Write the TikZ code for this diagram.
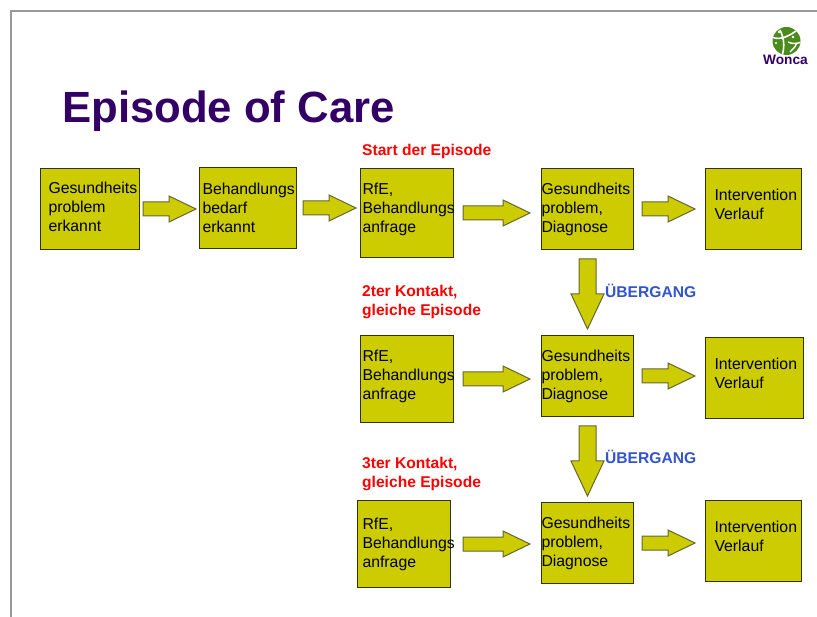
\documentclass[tikz,border=0pt]{standalone}
\usepackage{fontspec}
\setmainfont{Liberation Sans}
\usetikzlibrary{calc}
\definecolor{boxyellow}{HTML}{CCCC00}
\definecolor{titlepurple}{HTML}{330066}
\definecolor{hintblue}{HTML}{3355CC}
\definecolor{framegray}{HTML}{999999}
\definecolor{arrowline}{HTML}{666633}
\definecolor{globegreen}{HTML}{4B8B1D}
\newcommand{\lifttext}[1]{\rule[-#1pt]{0pt}{1pt}}
\tikzset{
  stepbox/.style n args={3}{draw=black!75!boxyellow, fill=boxyellow, line width=1pt, anchor=north west,
    minimum height=#2pt, text width=#1pt, inner xsep=#3pt, inner ysep=0pt, align=left,
    font=\fontsize{15.8}{19}\selectfont, execute at begin node={\hyphenpenalty=10000\relax}},
  blockright/.style 2 args={draw=arrowline, fill=boxyellow, line width=1pt, line join=miter,
    to path={
      ($(\tikztostart.east)+(#1pt,7pt)$) -- ($(\tikztotarget.west |- \tikztostart.east)+(-#2pt-27pt,7pt)$)
      -- ($(\tikztotarget.west |- \tikztostart.east)+(-#2pt-27pt,13pt)$)
      -- ($(\tikztotarget.west |- \tikztostart.east)+(-#2pt,0pt)$)
      -- ($(\tikztotarget.west |- \tikztostart.east)+(-#2pt-27pt,-13pt)$)
      -- ($(\tikztotarget.west |- \tikztostart.east)+(-#2pt-27pt,-7pt)$)
      -- ($(\tikztostart.east)+(#1pt,-7pt)$) -- cycle}},
  blockdown/.style={draw=arrowline, fill=boxyellow, line width=1pt, line join=miter,
    to path={
      ($(\tikztostart.south)+(-8.5pt,-9pt)$) -- ($(\tikztostart.south)+(8.5pt,-9pt)$)
      -- ($(\tikztotarget.north)+(8.5pt,41pt)$) -- ($(\tikztotarget.north)+(16.5pt,41pt)$)
      -- ($(\tikztotarget.north)+(0pt,6pt)$)
      -- ($(\tikztotarget.north)+(-16.5pt,41pt)$) -- ($(\tikztotarget.north)+(-8.5pt,41pt)$) -- cycle}},
  redlabel/.style={text=red, anchor=west, align=left, inner sep=0pt,
    font=\fontsize{15.6}{19}\selectfont\bfseries},
  hintlabel/.style={text=hintblue, anchor=west, inner sep=0pt,
    font=\fontsize{15.6}{16}\selectfont\bfseries}
}
\begin{document}
\begin{tikzpicture}[x=1pt, y=-1pt]
  \useasboundingbox (0,0) rectangle (817,617);
  \fill[white] (0,0) rectangle (817,617);

  % slide frame
  \draw[framegray, line width=2pt] (817,11) -- (10.5,11) -- (10.5,617);

  % logo
  \fill[globegreen] (786.5,41) circle (14);
  \begin{scope}
    \clip (786.5,41) circle (14);
    \draw[white, line width=1.6pt] (772,37) .. controls (780,41) and (790,36) .. (800,28);
    \draw[white, line width=1.6pt] (780,30) .. controls (784,38) and (785,46) .. (782,56);
    \draw[white, line width=1.4pt] (788,42) .. controls (792,44) and (796,44) .. (802,42);
    \draw[white, line width=1.4pt] (790,52) .. controls (794,48) and (796,46) .. (797,43);
    \fill[white] (779,32) circle (1.3) (793,37) circle (1.3) (776,43) circle (1.2);
  \end{scope}
  \node[text=titlepurple, inner sep=0pt, font=\fontsize{13.7}{14}\selectfont\bfseries] (logotext) at (785.5,60) {Wonca};

  \node[text=titlepurple, anchor=west, inner sep=0pt, font=\fontsize{43.7}{44}\selectfont\bfseries] (title) at (62,111) {Episode of Care};

  \node[redlabel] (startlabel) at (362,151) {Start der Episode};
  \node[redlabel] (secondlabel) at (362,302) {2ter Kontakt,\\gleiche Episode};
  \node[redlabel] (thirdlabel) at (362,474) {3ter Kontakt,\\gleiche Episode};

  % first row
  \node[stepbox={83}{81}{8}] (need) at (40,168) {Gesundheits\\problem\\erkannt\lifttext{5.4}};
  \node[stepbox={91}{81}{3}] (demand) at (199,167) {Behandlungs\\bedarf\\erkannt};
  \node[stepbox={89}{89}{2}] (rfeone) at (360,168) {RfE,\\Behandlungs\\anfrage\lifttext{11.4}};
  \node[stepbox={92}{81}{0}] (diagone) at (541,168) {Gesundheits\\problem,\\Diagnose};
  \node[stepbox={78}{81}{9}] (interone) at (705,168) {Intervention\\Verlauf\lifttext{10}};

  % second row
  \node[stepbox={89}{87}{2}] (rfetwo) at (360,335) {RfE,\\Behandlungs\\anfrage\lifttext{9.4}};
  \node[stepbox={92}{81}{0}] (diagtwo) at (541,335) {Gesundheits\\problem,\\Diagnose};
  \node[stepbox={80}{81}{9}] (intertwo) at (705,337) {Intervention\\Verlauf\lifttext{10}};

  % third row
  \node[stepbox={83}{87}{5}] (rfethree) at (357,500) {RfE,\\Behandlungs\\anfrage};
  \node[stepbox={92}{81}{0}] (diagthree) at (541,502) {Gesundheits\\problem,\\Diagnose};
  \node[stepbox={78}{81}{9}] (interthree) at (705,500) {Intervention\\Verlauf\lifttext{10}};

  % arrows
  \draw[blockright={3}{3}] (need) to (demand);
  \draw[blockright={6}{4}] (demand) to (rfeone);
  \draw[blockright={9}{11}] (rfeone) to (diagone);
  \draw[blockright={8}{10}] (diagone) to (interone);
  \draw[blockright={9}{11}] (rfetwo) to (diagtwo);
  \draw[blockright={8}{10}] (diagtwo) to (intertwo);
  \draw[blockright={12}{11}] (rfethree) to (diagthree);
  \draw[blockright={8}{10}] (diagthree) to (interthree);
  \draw[blockdown] (diagone) to (diagtwo);
  \draw[blockdown] (diagtwo) to (diagthree);

  \node[hintlabel] (firsthint) at (605,291) {ÜBERGANG};
  \node[hintlabel] (secondhint) at (605,457) {ÜBERGANG};
\end{tikzpicture}
\end{document}
